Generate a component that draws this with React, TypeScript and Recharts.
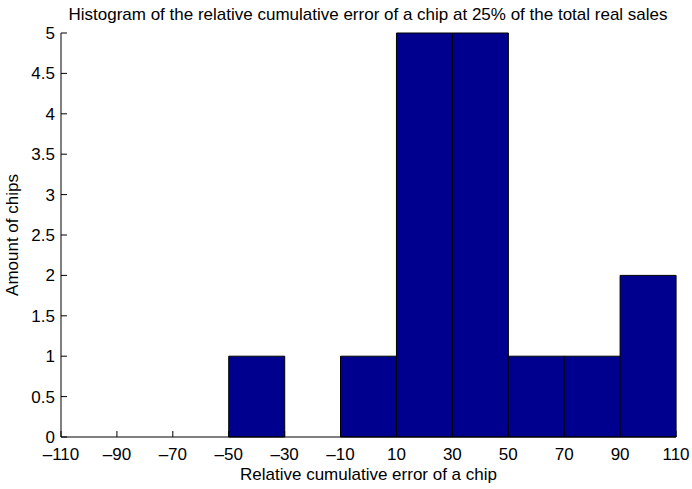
import React from 'react';
import { ComposedChart, Bar, XAxis, YAxis, Label } from 'recharts';

// histogram bins (centres) and the number of chips in each
const binCenters = [-100, -80, -60, -40, -20, 0, 20, 40, 60, 80, 100];
const chipCounts = [0, 0, 0, 1, 0, 1, 5, 5, 1, 1, 2];

const xTicks = [-110, -90, -70, -50, -30, -10, 10, 30, 50, 70, 90, 110];
const yTicks = [0, 0.5, 1, 1.5, 2, 2.5, 3, 3.5, 4, 4.5, 5];

const data = binCenters.map((center, i) => ({ center, count: chipCounts[i] }));

const FONT = '"Liberation Sans", Arial, Helvetica, sans-serif';
const FONT_SIZE = 17;
const BAR_COLOR = '#00008f';

const fmtX = (v: number) => (v < 0 ? '\u2013' + Math.abs(v) : String(v));
const blank = () => '';

const App: React.FC = () => {
  return (
    <div style={{ position: 'absolute', left: 0, top: 0, width: 692, height: 489, background: '#fff' }}>
      <div
        style={{
          position: 'absolute',
          top: 5,
          left: 0,
          width: 692,
          paddingLeft: 44,
          boxSizing: 'border-box',
          textAlign: 'center',
          fontFamily: FONT,
          fontSize: FONT_SIZE,
          color: '#000',
          whiteSpace: 'nowrap',
        }}
      >
        Histogram of the relative cumulative error of a chip at 25% of the total real sales
      </div>
      <ComposedChart
        width={692}
        height={489}
        data={data}
        margin={{ top: 33, right: 16, bottom: 0, left: 0 }}
        barCategoryGap={0}
        barGap={0}
        style={{ fontFamily: FONT }}
      >
        {/* bottom axis: labels outside, ticks pointing in */}
        <XAxis
          xAxisId="x"
          dataKey="center"
          type="number"
          domain={[-110, 110]}
          ticks={xTicks}
          interval={0}
          tickFormatter={fmtX}
          height={52}
          tickSize={-6}
          tickMargin={17}
          axisLine={{ stroke: '#000' }}
          tickLine={{ stroke: '#000' }}
          tick={{ fill: '#000', fontSize: FONT_SIZE }}
        >
          <Label
            value="Relative cumulative error of a chip"
            position="insideBottom"
            offset={9}
            style={{ fill: '#000', fontSize: FONT_SIZE, fontFamily: FONT }}
          />
        </XAxis>
        {/* top edge of the box */}
        <XAxis
          xAxisId="top"
          orientation="top"
          mirror
          type="number"
          domain={[-110, 110]}
          ticks={xTicks}
          interval={0}
          tickFormatter={blank}
          height={0}
          tickSize={6}
          axisLine={{ stroke: '#000' }}
          tickLine={{ stroke: '#000' }}
        />
        <YAxis
          yAxisId="y"
          type="number"
          domain={[0, 5]}
          ticks={yTicks}
          interval={0}
          width={61}
          tickSize={-6}
          tickMargin={12}
          axisLine={{ stroke: '#000' }}
          tickLine={{ stroke: '#000' }}
          tick={{ fill: '#000', fontSize: FONT_SIZE }}
        >
          <Label
            content={({ viewBox }: any) => {
              const cy = viewBox.y + viewBox.height / 2;
              return (
                <text
                  x={18}
                  y={cy}
                  transform={`rotate(-90, 18, ${cy})`}
                  textAnchor="middle"
                  fill="#000"
                  fontSize={FONT_SIZE}
                  fontFamily={FONT}
                >
                  Amount of chips
                </text>
              );
            }}
          />
        </YAxis>
        {/* right edge of the box */}
        <YAxis
          yAxisId="right"
          orientation="right"
          mirror
          type="number"
          domain={[0, 5]}
          ticks={yTicks}
          interval={0}
          tickFormatter={blank}
          width={0}
          tickSize={6}
          axisLine={{ stroke: '#000' }}
          tickLine={{ stroke: '#000' }}
        />
        <Bar
          xAxisId="x"
          yAxisId="y"
          dataKey="count"
          fill={BAR_COLOR}
          stroke="#000"
          strokeWidth={1}
          isAnimationActive={false}
        />
      </ComposedChart>
    </div>
  );
};

export default App;
